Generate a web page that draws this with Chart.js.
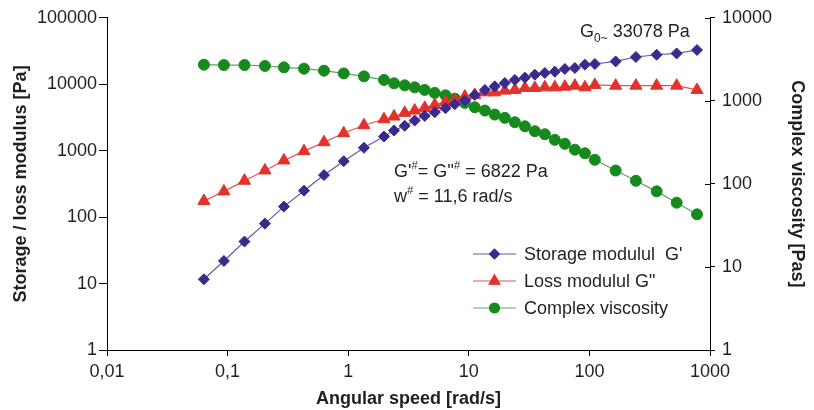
<!DOCTYPE html>
<html>
<head>
<meta charset="utf-8">
<script src="https://cdn.jsdelivr.net/npm/chart.js@4.4.0/dist/chart.umd.min.js"></script>
<style>
  html, body { margin: 0; padding: 0; background: #fff; }
  canvas { display: block; }
</style>
</head>
<body>
<canvas id="chart" width="814" height="410"></canvas>
<script>
// angular speed [rad/s]
const omega = [0.0636, 0.0932, 0.138, 0.204, 0.293, 0.43, 0.63, 0.918, 1.35,
  1.98, 2.4, 2.94, 3.56, 4.31, 5.22, 6.41, 7.65, 9.27, 11.2, 13.6, 16.4, 19.9,
  24.1, 29.2, 35.3, 42.7, 51.7, 62.6, 75.8, 91.8, 111,
  165, 243, 361, 529, 780];

// G' [Pa]
const storageModulus = [11.6, 21.9, 42.9, 79.8, 144, 250, 429, 695, 1106,
  1634, 2010, 2365, 2840, 3340, 3785, 4345, 4990, 5675, 6900, 8210, 9290, 10460,
  11610, 12570, 13940, 14780, 15460, 16970, 17570, 19690, 20170,
  22070, 25700, 27810, 29100, 32730];

// G'' [Pa]
const lossModulus = [175, 244, 353, 504, 713, 984, 1342, 1832, 2415,
  2970, 3265, 3710, 4015, 4410, 4890, 5420, 5810, 6515, 6905, 7550, 7550, 8015,
  8210, 8790, 8790, 8980, 8980, 9200, 9520, 8980, 9760,
  9520, 9520, 9520, 9520, 8210];

// eta* [Pas]
const complexViscosity = [2725, 2700, 2700, 2630, 2530, 2440, 2306, 2142, 1972,
  1785, 1626, 1538, 1456, 1354, 1246, 1166, 1064, 945, 837, 764, 684, 624,
  553, 494, 431, 396, 339, 304, 258, 234, 195,
  145, 109, 81.3, 59.4, 43];

const xTicks = [0.01, 0.1, 1, 10, 100, 1000];
const xTickLabels = ['0,01', '0,1', '1', '10', '100', '1000'];
const leftTicks = [1, 10, 100, 1000, 10000, 100000];
const rightTicks = [1, 10, 100, 1000, 10000];

const seriesNames = ["Storage modulul  G'", 'Loss modulul G"', 'Complex viscosity'];

const FONT = '"Liberation Sans", Arial, Helvetica, sans-serif';
const TEXT = '#231f20';

const toPoints = (ys) => omega.map((x, i) => ({ x: x, y: ys[i] }));

const series = [
  { label: seriesNames[0], data: toPoints(storageModulus), yAxisID: 'y',
    color: '#3b2a8c', line: '#6659b0', style: 'rectRot', r: 5.5 },
  { label: seriesNames[1], data: toPoints(lossModulus), yAxisID: 'y',
    color: '#e3322b', line: '#e8524a', style: 'triangle', r: 7 },
  { label: seriesNames[2], data: toPoints(complexViscosity), yAxisID: 'y2',
    color: '#168a1c', line: '#5aa95f', style: 'circle', r: 5.5 },
];

// draws text with superscript pieces, runs = [[text, isSup], ...]
function drawRuns(ctx, x, y, runs, size) {
  let cx = x;
  runs.forEach(([t, sup]) => {
    const s = sup ? size * 0.62 : size;
    ctx.font = s + 'px ' + FONT;
    ctx.fillText(t, cx, sup ? y - size * 0.42 : y);
    cx += ctx.measureText(t).width;
  });
}

const extras = {
  id: 'extras',
  afterDraw(chart) {
    const ctx = chart.ctx;
    const area = chart.chartArea;
    const y2 = chart.scales.y2;
    ctx.save();

    // inward half of the right axis ticks
    ctx.strokeStyle = '#000';
    ctx.lineWidth = 1;
    rightTicks.forEach(v => {
      const py = Math.round(y2.getPixelForValue(v)) + 0.5;
      ctx.beginPath();
      ctx.moveTo(area.right - 5, py);
      ctx.lineTo(area.right, py);
      ctx.stroke();
    });

    // legend
    ctx.textBaseline = 'middle';
    ctx.textAlign = 'left';
    series.forEach((s, i) => {
      const ly = 254 + i * 27;
      ctx.strokeStyle = s.line;
      ctx.lineWidth = 1.2;
      ctx.beginPath();
      ctx.moveTo(473, ly);
      ctx.lineTo(516, ly);
      ctx.stroke();
      ctx.fillStyle = s.color;
      ctx.strokeStyle = s.color;
      Chart.helpers.drawPoint(ctx, { pointStyle: s.style, radius: s.r * 0.9, rotation: 0, borderWidth: 1 }, 494.5, ly);
      ctx.fillStyle = TEXT;
      ctx.font = '18px ' + FONT;
      ctx.fillText(s.label, 524, ly + 1);
    });

    // annotations
    ctx.textBaseline = 'alphabetic';
    ctx.fillStyle = TEXT;
    ctx.font = '18px ' + FONT;
    ctx.fillText('G', 580, 37);
    let gx = 580 + ctx.measureText('G').width;
    ctx.font = '12px ' + FONT;
    ctx.fillText('0~', gx, 42);
    gx += ctx.measureText('0~').width;
    ctx.font = '18px ' + FONT;
    ctx.fillText(' 33078 Pa', gx, 37);

    drawRuns(ctx, 394, 177, [["G'", false], ['#', true], ["= G''", false], ['#', true], [' = 6822 Pa', false]], 18);
    drawRuns(ctx, 394, 202, [['w', false], ['#', true], [' = 11,6 rad/s', false]], 18);

    ctx.restore();
  }
};

const axisGrid = (len) => ({
  display: true,
  drawOnChartArea: false,
  drawTicks: true,
  tickLength: len,
  color: '#000',
  lineWidth: 1,
});

new Chart(document.getElementById('chart'), {
  type: 'line',
  data: {
    datasets: series.map(s => ({
      label: s.label,
      data: s.data,
      yAxisID: s.yAxisID,
      borderColor: s.line,
      backgroundColor: s.color,
      borderWidth: 1.2,
      pointStyle: s.style,
      pointRadius: s.r,
      pointBorderColor: s.color,
      pointBackgroundColor: s.color,
      pointBorderWidth: 1,
      tension: 0,
      fill: false,
    })),
  },
  options: {
    responsive: false,
    animation: false,
    devicePixelRatio: 1,
    layout: { padding: { top: 17, left: 0, right: 0, bottom: 0 } },
    plugins: {
      legend: { display: false },
      tooltip: { enabled: false },
    },
    scales: {
      x: {
        type: 'logarithmic',
        position: 'bottom',
        min: 0.01,
        max: 1000,
        afterBuildTicks: (s) => { s.ticks = xTicks.map(v => ({ value: v })); },
        afterFit: (s) => { s.height = 60; },
        ticks: {
          autoSkip: false,
          maxRotation: 0,
          padding: 5,
          color: TEXT,
          font: { family: FONT, size: 18 },
          callback: (v) => xTickLabels[xTicks.indexOf(v)],
        },
        grid: axisGrid(6),
        border: { display: true, color: '#000', width: 1 },
        title: {
          display: true,
          text: 'Angular speed [rad/s]',
          color: TEXT,
          font: { family: FONT, size: 18, weight: 'bold' },
          padding: { top: 0, bottom: 0 },
        },
      },
      y: {
        type: 'logarithmic',
        position: 'left',
        min: 1,
        max: 100000,
        afterBuildTicks: (s) => { s.ticks = leftTicks.map(v => ({ value: v })); },
        afterFit: (s) => { s.width = 107; },
        ticks: {
          autoSkip: false,
          padding: 2,
          color: TEXT,
          font: { family: FONT, size: 18 },
          callback: (v) => String(v),
        },
        grid: axisGrid(8),
        border: { display: true, color: '#000', width: 1 },
        title: {
          display: true,
          text: 'Storage / loss modulus [Pa]',
          color: TEXT,
          font: { family: FONT, size: 18, weight: 'bold' },
          padding: { top: 10, bottom: 0 },
        },
      },
      y2: {
        type: 'logarithmic',
        position: 'right',
        min: 1,
        max: 10000,
        afterBuildTicks: (s) => { s.ticks = rightTicks.map(v => ({ value: v })); },
        afterFit: (s) => { s.width = 104; },
        ticks: {
          autoSkip: false,
          padding: 7,
          color: TEXT,
          font: { family: FONT, size: 18 },
          callback: (v) => String(v),
        },
        grid: axisGrid(5),
        border: { display: true, color: '#000', width: 1 },
        title: {
          display: true,
          text: 'Complex viscosity [Pas]',
          color: TEXT,
          font: { family: FONT, size: 18, weight: 'bold' },
          padding: { top: 6, bottom: 0 },
        },
      },
    },
  },
  plugins: [extras],
});
</script>
</body>
</html>
